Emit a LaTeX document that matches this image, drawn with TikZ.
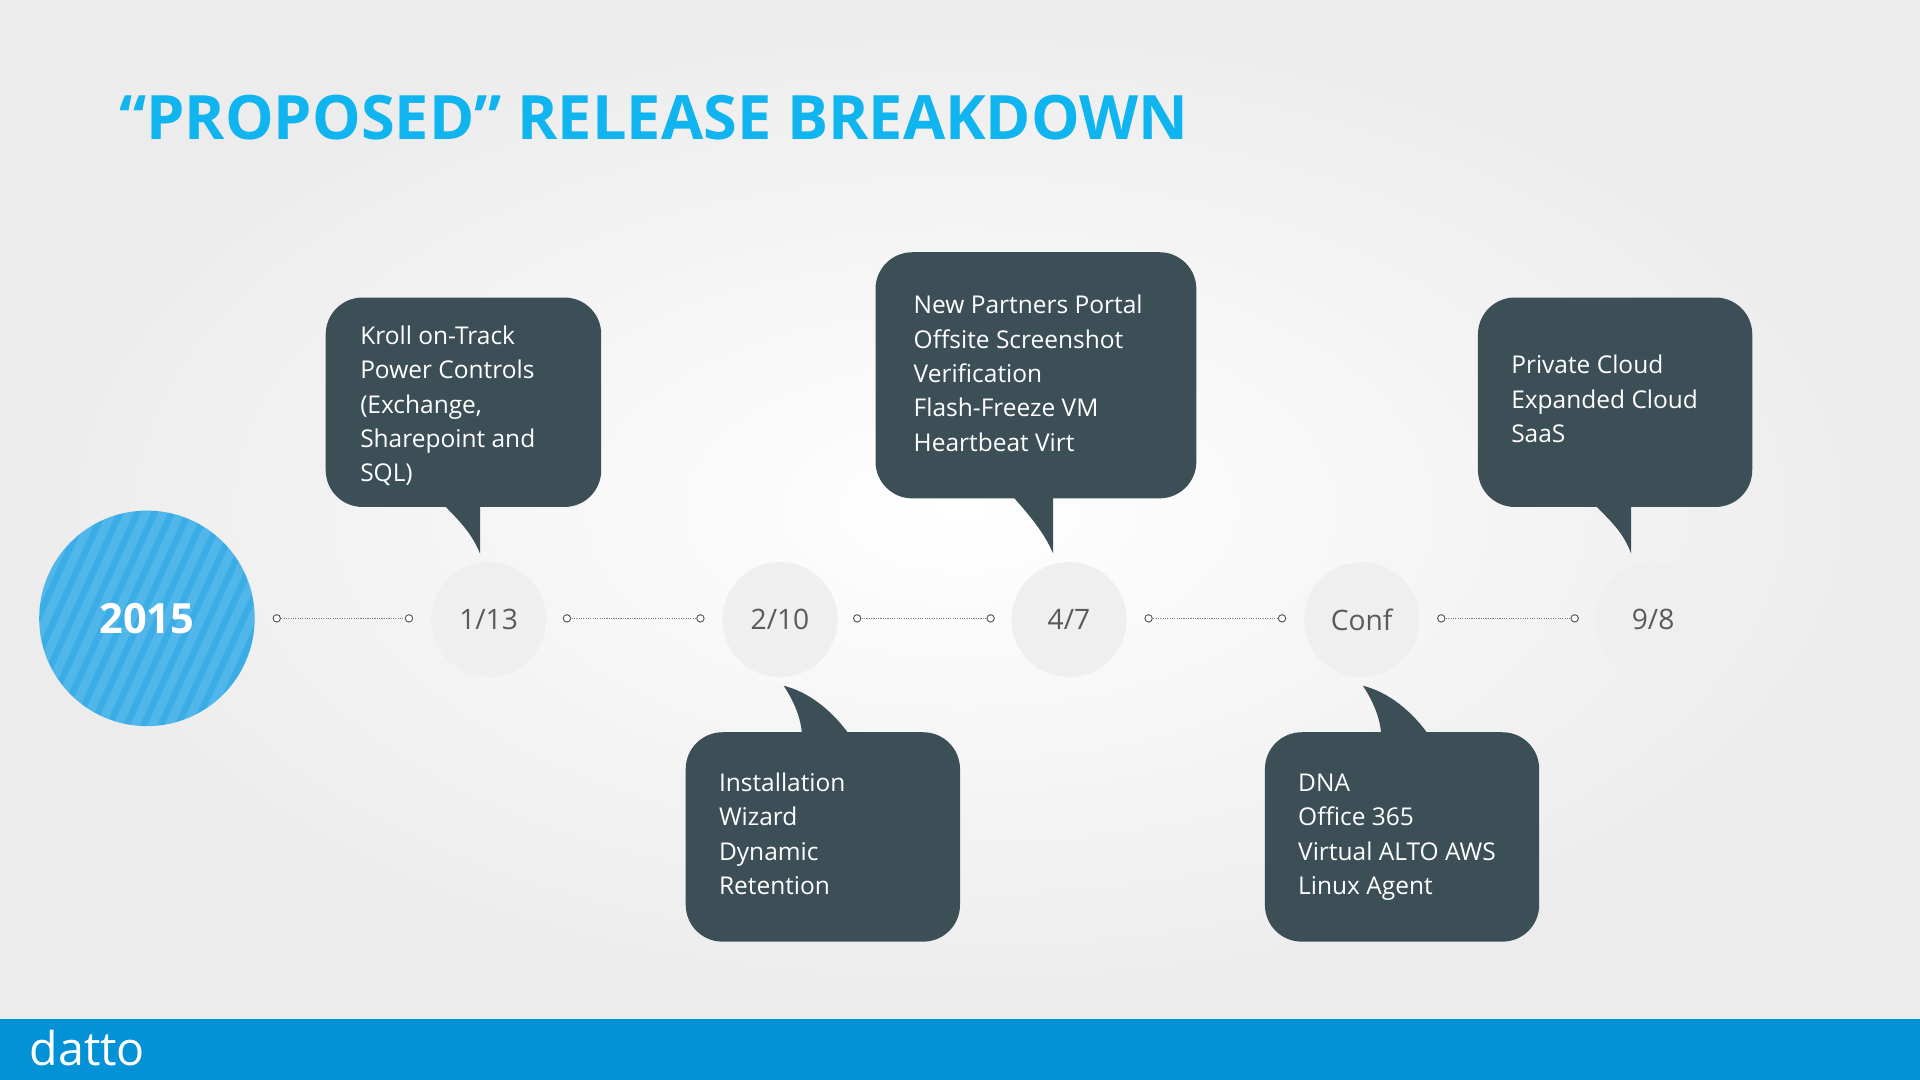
\documentclass[tikz,border=0pt]{standalone}
\usepackage{fontspec}
\setmainfont{Open Sans}
\newfontfamily\titlefont{Open Sans Bold}
\usetikzlibrary{patterns}
\definecolor{cyanT}{HTML}{10B4EE}
\definecolor{barB}{HTML}{0492D6}
\definecolor{bub}{HTML}{3C4E56}
\definecolor{circB}{HTML}{3AACE6}
\definecolor{dotc}{HTML}{EFEFEF}
\definecolor{numc}{HTML}{5A5A5A}
\tikzset{
 bubble/.style={fill=bub,rounded corners=30pt,draw=none},
 btext/.style={text=white,font=\fontsize{20}{28}\selectfont,align=left,anchor=north west,inner sep=0pt},
 date/.style={circle,fill=dotc,minimum size=94pt,inner sep=0pt,text=numc,font=\fontsize{23}{26}\selectfont},
 link/.style={draw=numc!80,densely dotted,line width=0.9pt},
 endc/.style={circle,draw=numc,fill=white,line width=0.8pt,minimum size=6pt,inner sep=0pt}
}
\begin{document}
\begin{tikzpicture}[x=1pt,y=-1pt]
\useasboundingbox (0,0) rectangle (1568,882);
\shade[inner color=white,outer color=gray!15] (0,0) rectangle (1568,832);
\fill[barB] (0,832) rectangle (1568,882);
\node[anchor=west,text=white,font=\fontsize{38}{40}\selectfont,inner sep=0pt] (logo) at (24,856) {datto};
\node[anchor=base west,text=cyanT,font=\titlefont\fontsize{50}{54}\selectfont,inner sep=0pt] (title) at (97,114) {“PROPOSED” RELEASE BREAKDOWN};
% year circle
\fill[circB] (120,505) circle (88);
\begin{scope}
\clip (120,505) circle (88);
\foreach \i in {-200,-186,...,200}{\fill[white,opacity=0.12] (120+\i,417) -- (128+\i,417) -- (48+\i,593) -- (40+\i,593) -- cycle;}
\end{scope}
\node[text=white,font=\bfseries\fontsize{34}{36}\selectfont] (yr) at (120,505) {2015};
% dates
\node[date] (d1) at (399,506) {1/13};
\node[date] (d2) at (637,506) {2/10};
\node[date] (d3) at (873,506) {4/7};
\node[date] (d4) at (1112,506) {Conf};
\node[date] (d5) at (1350,506) {9/8};
\foreach \a/\b [count=\k] in {226/334,463/572,700/809,938/1047,1177/1286}{
 \coordinate (s\k) at (\a,505); \coordinate (e\k) at (\b,505);
 \draw[link] (s\k) -- (e\k);
 \node[endc] at (s\k) {}; \node[endc] at (e\k) {};
}
% top bubbles
\fill[bubble] (266,243) rectangle (491,414);
\fill[bub] (360,410) .. controls (375,425) and (385,435) .. (392,452) -- (392,410) -- cycle;
\node[btext] (t1) at (294,266) {Kroll on-Track\\Power Controls\\(Exchange,\\Sharepoint and\\SQL)};
\fill[bubble] (715,206) rectangle (977,407);
\fill[bub] (825,403) .. controls (840,420) and (853,435) .. (860,452) -- (860,403) -- cycle;
\node[btext] (t2) at (746,241) {New Partners Portal\\Offsite Screenshot\\Verification\\Flash-Freeze VM\\Heartbeat Virt};
\fill[bubble] (1207,243) rectangle (1431,414);
\fill[bub] (1300,410) .. controls (1315,425) and (1326,435) .. (1332,452) -- (1332,410) -- cycle;
\node[btext] (t3) at (1234,290) {Private Cloud\\Expanded Cloud\\SaaS};
% bottom bubbles
\fill[bubble] (560,598) rectangle (784,769);
\fill[bub] (695,602) .. controls (680,580) and (660,565) .. (640,560) .. controls (650,575) and (655,590) .. (655,602) -- cycle;
\node[btext] (t4) at (587,631) {Installation\\Wizard\\Dynamic\\Retention};
\fill[bubble] (1033,598) rectangle (1257,769);
\fill[bub] (1168,602) .. controls (1153,580) and (1133,565) .. (1113,560) .. controls (1123,575) and (1128,590) .. (1128,602) -- cycle;
\node[btext] (t5) at (1060,632) {DNA\\Office 365\\Virtual ALTO AWS\\Linux Agent};
\end{tikzpicture}
\end{document}
